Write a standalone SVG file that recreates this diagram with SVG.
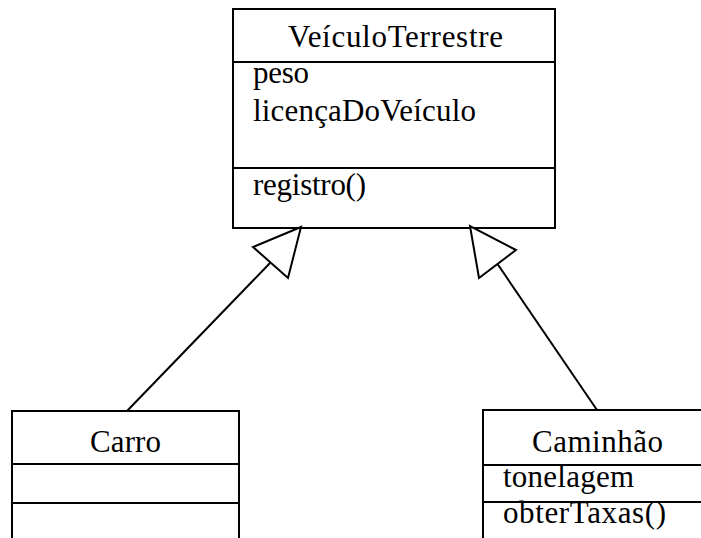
<svg xmlns="http://www.w3.org/2000/svg" width="701" height="538" viewBox="0 0 701 538">
<style>
.box{fill:#fff;stroke:#000;stroke-width:2}
.div{stroke:#000;stroke-width:2}
.t{font-family:"Liberation Serif","Times New Roman",serif;font-size:31px;fill:#000}
.c{fill:none;stroke:#000;stroke-width:2}
.tri{fill:#fff;stroke:#000;stroke-width:2;stroke-linejoin:miter}
</style>
<rect width="701" height="538" fill="#fff"/>
<g id="VeiculoTerrestre">
<rect class="box" x="233" y="9" width="322" height="219"/>
<line class="div" x1="233" y1="62" x2="555" y2="62"/>
<line class="div" x1="233" y1="168" x2="555" y2="168"/>
<text class="t" x="288" y="47" textLength="215" lengthAdjust="spacing">VeículoTerrestre</text>
<text class="t" x="253" y="83" textLength="56" lengthAdjust="spacing">peso</text>
<text class="t" x="253" y="121" textLength="223" lengthAdjust="spacing">licençaDoVeículo</text>
<text class="t" x="253" y="195" textLength="113" lengthAdjust="spacing">registro()</text>
</g>
<g id="Carro">
<rect class="box" x="12" y="411" width="227" height="140"/>
<line class="div" x1="12" y1="464" x2="239" y2="464"/>
<line class="div" x1="12" y1="503" x2="239" y2="503"/>
<text class="t" x="90" y="452" textLength="71" lengthAdjust="spacing">Carro</text>
</g>
<g id="Caminhao">
<rect class="box" x="483" y="410" width="240" height="140"/>
<line class="div" x1="483" y1="465" x2="723" y2="465"/>
<line class="div" x1="483" y1="502" x2="723" y2="502"/>
<text class="t" x="532" y="452" textLength="131" lengthAdjust="spacing">Caminhão</text>
<text class="t" x="503" y="487" textLength="131" lengthAdjust="spacing">tonelagem</text>
<text class="t" x="503" y="523" textLength="163" lengthAdjust="spacing">obterTaxas()</text>
</g>
<g id="connectors">
<line class="c" x1="127" y1="411" x2="270.5" y2="262.5"/>
<polygon class="tri" points="301,227 253,247 288,278"/>
<line class="c" x1="597" y1="410" x2="497.5" y2="264"/>
<polygon class="tri" points="470,226 479,278 516,250"/>
</g>
</svg>
